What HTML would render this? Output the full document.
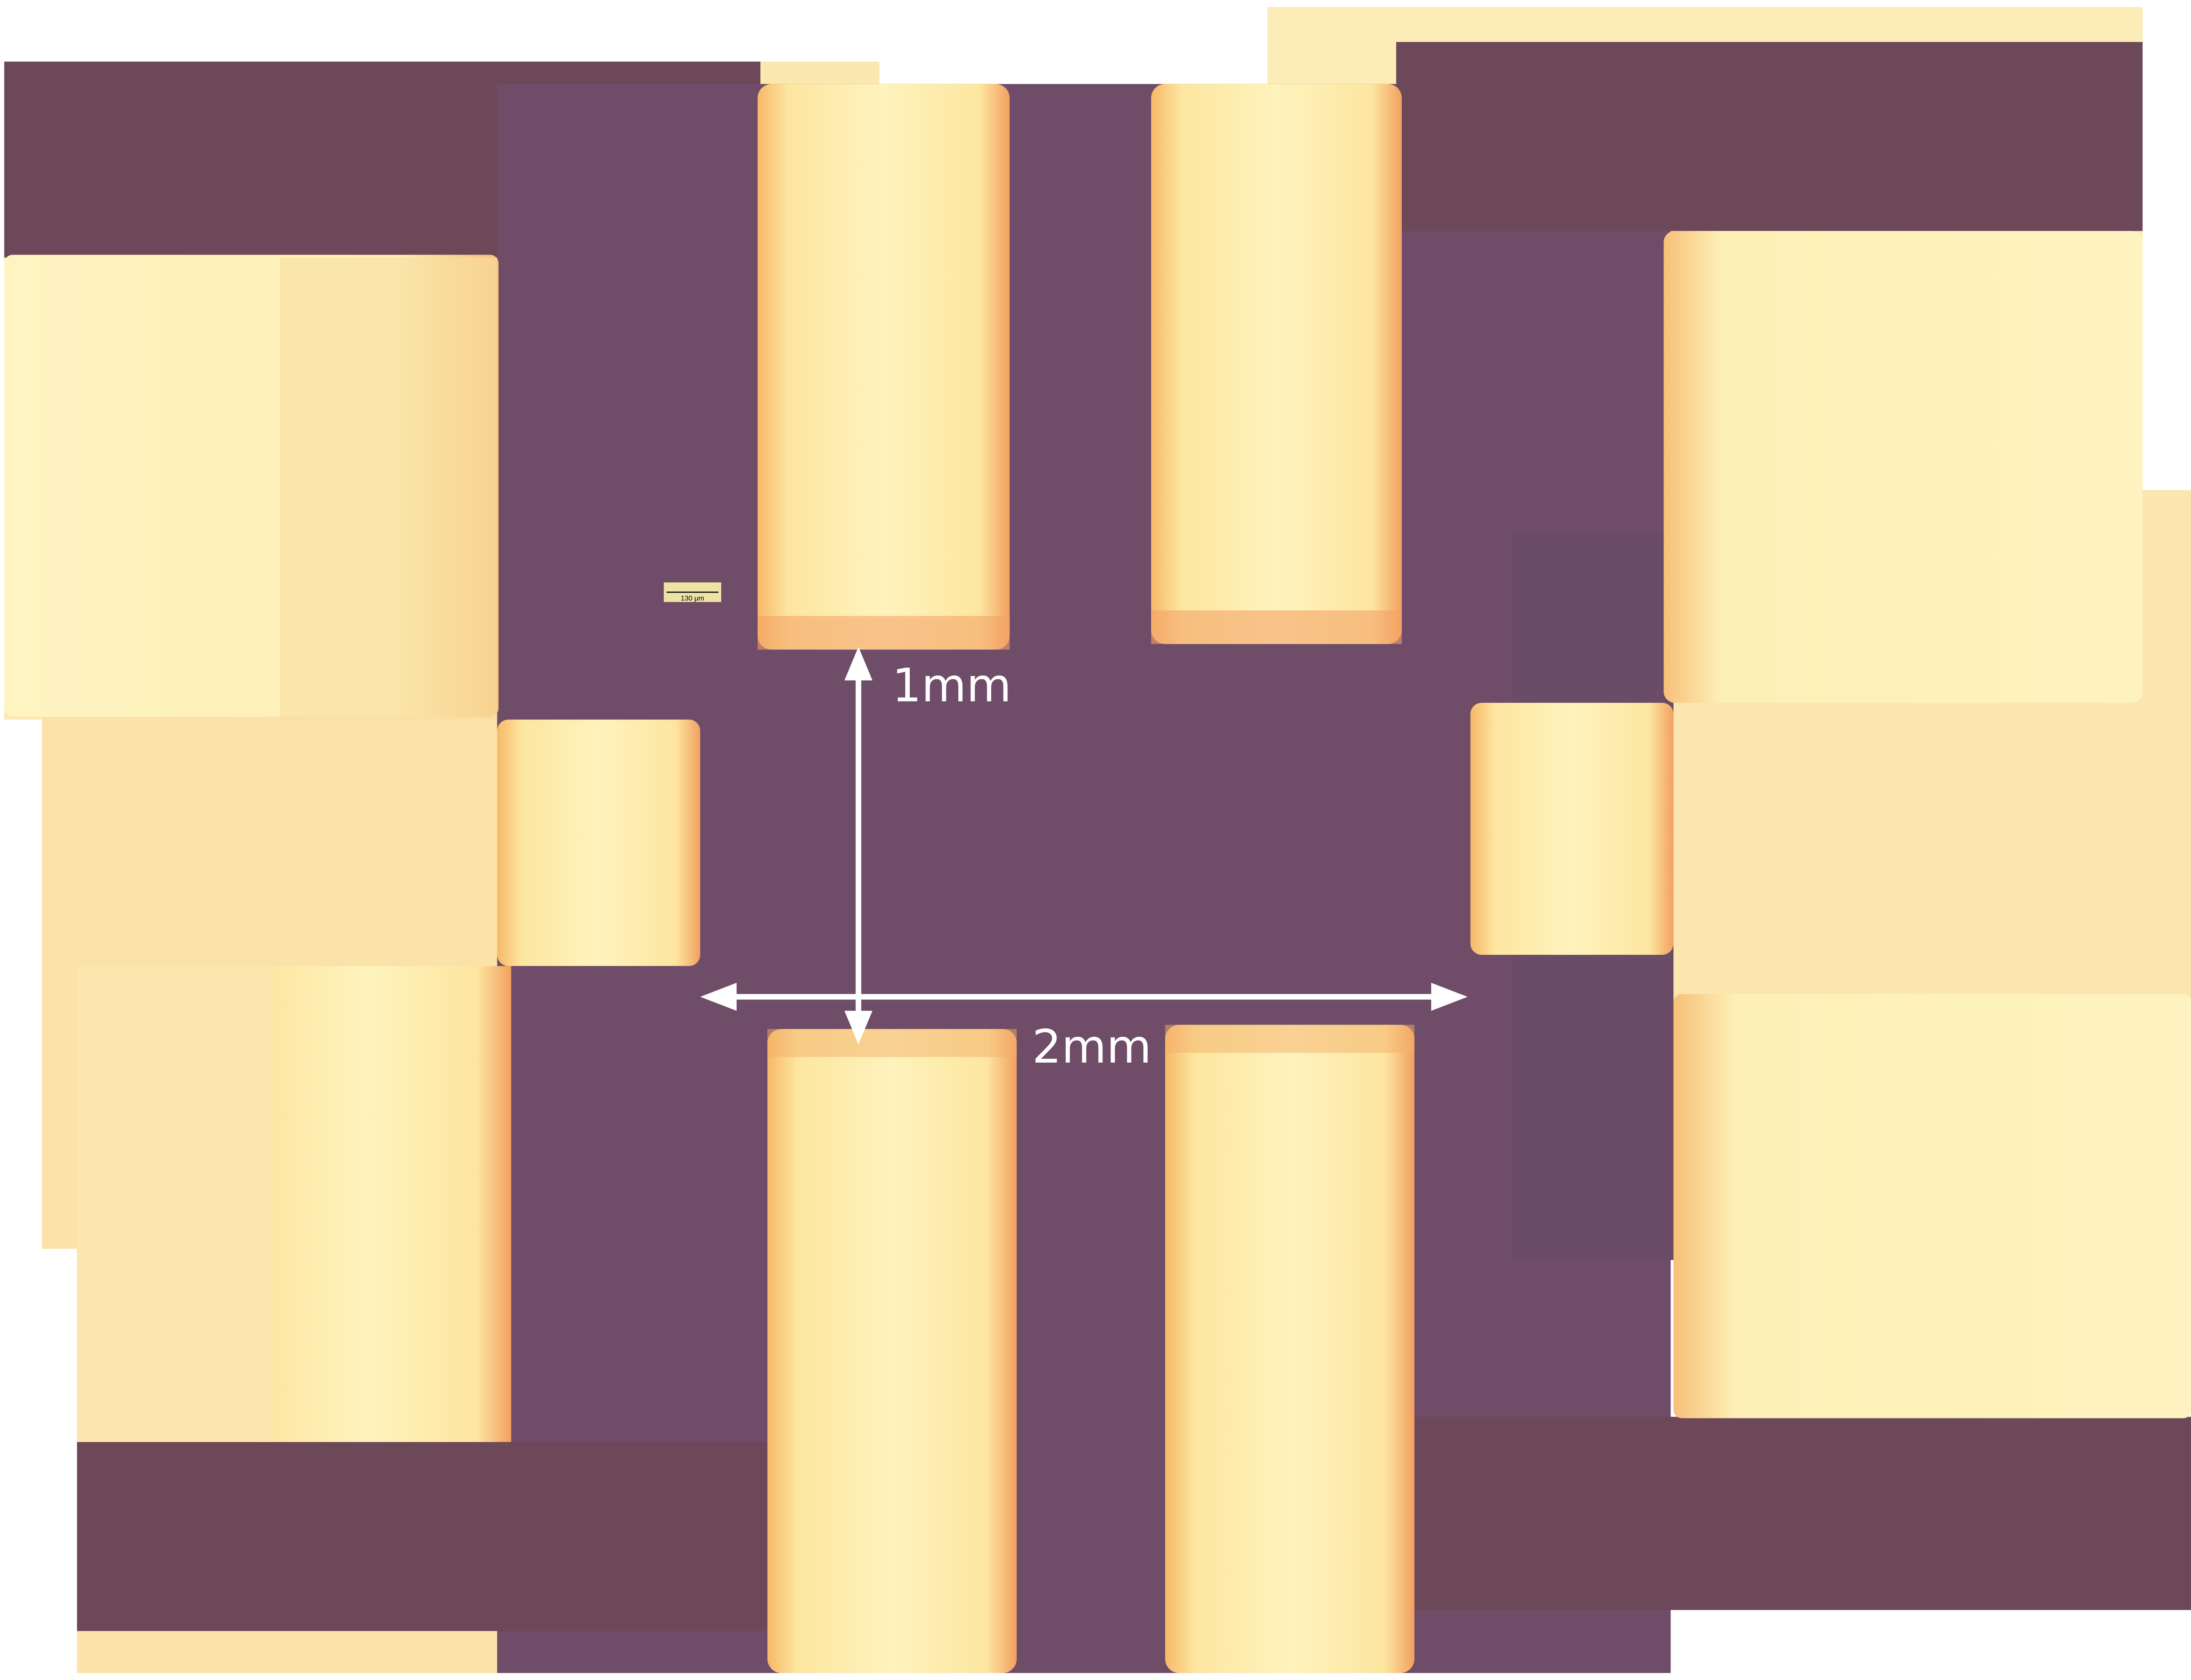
<!DOCTYPE html>
<html><head><meta charset="utf-8"><style>
html,body{margin:0;padding:0;background:#fff;overflow:hidden}
svg{display:block}
</style></head><body>
<svg width="5011" height="3834" viewBox="0 0 1568 1200" preserveAspectRatio="none" xmlns="http://www.w3.org/2000/svg">
<defs>
<linearGradient id="padH" x1="0" x2="1" y1="0" y2="0">
<stop offset="0" stop-color="#f6b868"/><stop offset="0.12" stop-color="#fde6a0"/><stop offset="0.5" stop-color="#fef3bd"/><stop offset="0.88" stop-color="#fde6a0"/><stop offset="1" stop-color="#f2a060"/></linearGradient>
<linearGradient id="padBig" x1="0" x2="1" y1="0" y2="0">
<stop offset="0" stop-color="#fef4c2"/><stop offset="0.8" stop-color="#fdeeb4"/><stop offset="1" stop-color="#f7c078"/></linearGradient>
<linearGradient id="padBigR" x1="0" x2="1" y1="0" y2="0">
<stop offset="0" stop-color="#f7c078"/><stop offset="0.12" stop-color="#fdf0b6"/><stop offset="1" stop-color="#fef3c0"/></linearGradient>
</defs>
<rect x="3" y="44" width="625" height="470" fill="#fbe8b0"/>
<rect x="30" y="512" width="480" height="380" fill="#fbe2a8"/>
<rect x="55" y="690" width="500" height="505" fill="#fbe2a8"/>
<rect x="1190" y="350" width="378" height="365" fill="#fbe6b0"/>
<rect x="905" y="5" width="625" height="470" fill="#fcecb8"/>
<rect x="3" y="44" width="540" height="140" fill="#6c4858"/>
<rect x="355" y="60" width="838" height="1135" fill="#6f4d69"/>
<rect x="997" y="30" width="533" height="135" fill="#6c4858"/>
<rect x="55" y="1030" width="500" height="135" fill="#6c4858"/>
<rect x="1010" y="1012" width="555" height="138" fill="#6c4858"/>
<rect x="1080" y="380" width="115" height="520" fill="#6a4c66"/>
<rect x="3" y="182" width="353" height="330" rx="6" fill="url(#padBig)"/>
<rect x="355" y="514" width="145" height="176" rx="8" fill="url(#padH)"/>
<rect x="160" y="690" width="205" height="340" fill="url(#padH)"/>
<rect x="55" y="690" width="140" height="340" fill="#fbe6ae"/>
<rect x="200" y="184" width="155" height="330" fill="#f9dea0" opacity="0.6"/>
<rect x="541" y="60" width="180" height="404" rx="10" fill="url(#padH)"/>
<rect x="822" y="60" width="179" height="400" rx="10" fill="url(#padH)"/>
<rect x="1188" y="165" width="342" height="337" rx="8" fill="url(#padBigR)"/>
<rect x="1050" y="502" width="145" height="180" rx="8" fill="url(#padH)"/>
<rect x="1195" y="710" width="370" height="303" rx="6" fill="url(#padBigR)"/>
<rect x="548" y="735" width="178" height="460" rx="10" fill="url(#padH)"/>
<rect x="832" y="732" width="178" height="463" rx="10" fill="url(#padH)"/>
<rect x="548" y="735" width="178" height="20" fill="#f4b06a" opacity="0.5"/>
<rect x="832" y="732" width="178" height="20" fill="#f4b06a" opacity="0.5"/>
<rect x="541" y="440" width="180" height="24" fill="#f4a468" opacity="0.6"/>
<rect x="822" y="436" width="179" height="24" fill="#f4a468" opacity="0.6"/>
<rect x="474" y="416" width="41" height="14" fill="#efe2a6"/>
<line x1="476" y1="423" x2="513" y2="423" stroke="#000" stroke-width="0.8"/>
<text x="494.5" y="429" font-family="Liberation Sans, sans-serif" font-size="5" text-anchor="middle" fill="#000">130 µm</text>
<g fill="#fff">
<rect x="611" y="480" width="4" height="248"/>
<polygon points="613,462 603,486 623,486"/>
<polygon points="613,746 603,722 623,722"/>
</g>
<g fill="#fff">
<rect x="520" y="710" width="508" height="4"/>
<polygon points="500,712 526,702 526,722"/>
<polygon points="1048,712 1022,702 1022,722"/>
</g>
<text x="637" y="501" font-family="DejaVu Sans, sans-serif" font-size="33" fill="#fff">1mm</text>
<text x="737" y="759" font-family="DejaVu Sans, sans-serif" font-size="33" fill="#fff">2mm</text>
</svg>
</body></html>
